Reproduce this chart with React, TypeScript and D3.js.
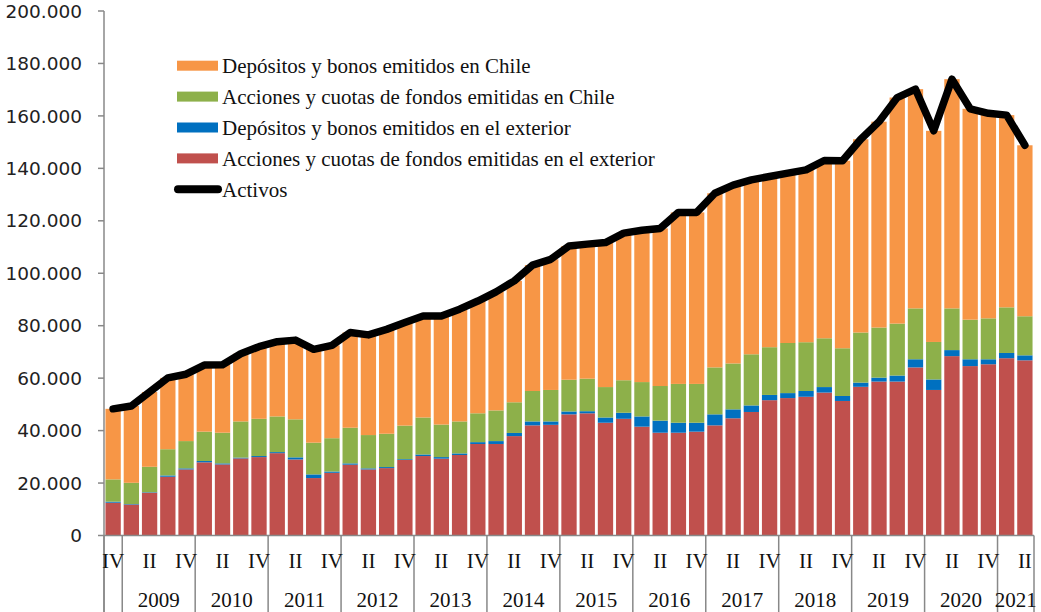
import React from "react";
import * as d3 from "d3";

// Quarters from 2008 IV to 2021 II
const categories = [
  "2008-IV",
  "2009-I", "2009-II", "2009-III", "2009-IV",
  "2010-I", "2010-II", "2010-III", "2010-IV",
  "2011-I", "2011-II", "2011-III", "2011-IV",
  "2012-I", "2012-II", "2012-III", "2012-IV",
  "2013-I", "2013-II", "2013-III", "2013-IV",
  "2014-I", "2014-II", "2014-III", "2014-IV",
  "2015-I", "2015-II", "2015-III", "2015-IV",
  "2016-I", "2016-II", "2016-III", "2016-IV",
  "2017-I", "2017-II", "2017-III", "2017-IV",
  "2018-I", "2018-II", "2018-III", "2018-IV",
  "2019-I", "2019-II", "2019-III", "2019-IV",
  "2020-I", "2020-II", "2020-III", "2020-IV",
  "2021-I", "2021-II",
];

const quarterTickLabels = [
  "IV",
  "", "II", "", "IV",
  "", "II", "", "IV",
  "", "II", "", "IV",
  "", "II", "", "IV",
  "", "II", "", "IV",
  "", "II", "", "IV",
  "", "II", "", "IV",
  "", "II", "", "IV",
  "", "II", "", "IV",
  "", "II", "", "IV",
  "", "II", "", "IV",
  "", "II", "", "IV",
  "", "II",
];

const yearLabels = ["2009", "2010", "2011", "2012", "2013", "2014", "2015", "2016", "2017", "2018", "2019", "2020", "2021"];

const yTicks = [0, 20, 40, 60, 80, 100, 120, 140, 160, 180, 200];

// Values in thousands
const accionesExterior = [
  12.5, 11.8, 16.3, 22.4, 25.2, 27.9, 27.1, 29.4, 29.9, 31.4, 29.0, 21.9, 23.9,
  27.0, 25.2, 25.7, 28.8, 30.3, 29.3, 30.7, 34.9, 34.9, 37.9, 42.0, 42.2,
  46.2, 46.6, 43.0, 44.5, 41.5, 39.2, 39.2, 39.6, 42.0, 44.7, 47.1, 51.6,
  52.4, 52.9, 54.5, 51.3, 56.7, 58.7, 58.7, 64.1, 55.5, 68.4, 64.6, 65.3, 67.6, 66.8,
];

const depositosExterior = [
  0.4, 0.2, 0.2, 0.5, 0.4, 0.5, 0.4, 0.3, 0.4, 0.4, 0.8, 1.4, 0.5,
  0.5, 0.4, 0.4, 0.3, 0.6, 0.6, 0.6, 0.7, 1.1, 1.2, 1.5, 1.3,
  1.1, 0.8, 2.0, 2.3, 3.9, 4.6, 3.8, 3.4, 4.2, 3.4, 2.5, 2.0,
  1.9, 2.2, 2.1, 1.9, 1.6, 1.5, 2.3, 3.1, 4.0, 2.3, 2.6, 1.9, 2.0, 1.9,
];

const accionesChile = [
  8.5, 8.1, 9.7, 10.0, 10.4, 11.2, 11.7, 13.8, 14.2, 13.6, 14.5, 12.1, 12.7,
  13.6, 12.7, 12.7, 12.8, 14.1, 12.4, 12.2, 11.0, 11.7, 11.7, 11.6, 12.0,
  12.1, 12.4, 11.6, 12.4, 13.1, 13.2, 14.8, 14.8, 17.9, 17.5, 19.5, 18.2,
  19.1, 18.6, 18.6, 18.2, 19.1, 19.1, 19.8, 19.4, 14.3, 15.9, 15.1, 15.6, 17.4, 14.9,
];

const depositosChile = [
  26.9, 29.3, 28.5, 27.2, 25.5, 25.4, 25.9, 25.8, 27.5, 28.5, 30.2, 35.6, 35.4,
  36.3, 38.2, 39.8, 39.3, 38.7, 41.4, 42.8, 42.8, 45.2, 46.3, 48.0, 49.8,
  51.0, 51.3, 55.1, 56.1, 57.9, 60.1, 65.4, 65.4, 66.4, 68.0, 66.5, 65.1,
  64.8, 65.7, 67.8, 71.5, 73.7, 78.5, 86.2, 83.6, 80.5, 87.4, 80.4, 78.2, 73.3, 65.2,
];

const activos = [
  48.3, 49.4, 54.7, 60.1, 61.5, 65.0, 65.1, 69.3, 72.0, 73.9, 74.5, 71.0, 72.5,
  77.4, 76.5, 78.6, 81.2, 83.7, 83.7, 86.3, 89.4, 92.9, 97.1, 103.1, 105.3,
  110.4, 111.1, 111.7, 115.3, 116.4, 117.1, 123.2, 123.2, 130.5, 133.6, 135.6, 136.9,
  138.2, 139.4, 143.0, 142.9, 151.1, 157.8, 167.0, 170.2, 154.3, 174.0, 162.7, 161.0, 160.3, 148.8,
];

const seriesKeys = ["accionesExterior", "depositosExterior", "accionesChile", "depositosChile"];
const seriesColors: Record<string, string> = {
  accionesExterior: "#C0504D",
  depositosExterior: "#0070C0",
  accionesChile: "#8DB04A",
  depositosChile: "#F79646",
};

const legendItems = [
  { label: "Depósitos y bonos emitidos en Chile", key: "depositosChile" },
  { label: "Acciones y cuotas de fondos emitidas en Chile", key: "accionesChile" },
  { label: "Depósitos y bonos emitidos en el exterior", key: "depositosExterior" },
  { label: "Acciones y cuotas de fondos emitidas en el exterior", key: "accionesExterior" },
  { label: "Activos", key: "activos" },
];

const W = 1041;
const H = 612;
const AXIS_COLOR = "#888888";
const SERIF = "'Liberation Serif', 'Times New Roman', serif";
const SANS = "'DejaVu Sans', sans-serif";

export default function App() {
  const x = d3
    .scaleBand<string>()
    .domain(categories)
    .range([104, 1034])
    .paddingInner(0.16)
    .paddingOuter(0.08);
  const y = d3.scaleLinear().domain([0, 200]).range([535.5, 11]);

  const table = categories.map((c, i) => ({
    cat: c,
    accionesExterior: accionesExterior[i],
    depositosExterior: depositosExterior[i],
    accionesChile: accionesChile[i],
    depositosChile: depositosChile[i],
  }));
  const stacked = d3.stack<any>().keys(seriesKeys)(table);

  const bw = x.bandwidth();
  const step = x.step();
  const halfGap = (step - bw) / 2;

  const line = d3
    .line<number>()
    .x((_, i) => (x(categories[i]) as number) + bw / 2)
    .y((d) => y(d));

  // separators at year starts
  const sepXs: number[] = [104];
  categories.forEach((c) => {
    if (c.endsWith("-I")) sepXs.push((x(c) as number) - halfGap);
  });
  sepXs.push(1034);

  const fmt = (v: number) => (v === 0 ? "0" : `${v}.000`);

  const yearCenters = yearLabels.map((yr) => {
    const idx = categories.map((c, i) => (c.startsWith(yr) ? i : -1)).filter((i) => i >= 0);
    const a = (x(categories[idx[0]]) as number) - halfGap;
    const b = (x(categories[idx[idx.length - 1]]) as number) + bw + halfGap;
    return { yr, cx: (a + b) / 2 };
  });

  const legendX = 177;
  const legendY0 = 65.7;
  const legendDy = 30.9;

  return (
    <svg
      width={W}
      height={H}
      style={{ position: "absolute", left: 0, top: 0, background: "#fff" }}
    >
      <rect x={0} y={0} width={W} height={H} fill="#fff" />
      {/* bars */}
      {stacked.map((s) => (
        <g key={s.key} fill={seriesColors[s.key]}>
          {s.map((d, i) => (
            <rect
              key={i}
              x={x(categories[i])}
              y={y(d[1])}
              width={bw}
              height={Math.max(0, y(d[0]) - y(d[1]))}
            />
          ))}
        </g>
      ))}

      {/* y axis */}
      <line x1={104} x2={104} y1={y(200)} y2={612} stroke={AXIS_COLOR} strokeWidth={1.5} />
      {yTicks.map((t) => (
        <g key={t}>
          <line x1={98} x2={104} y1={y(t)} y2={y(t)} stroke={AXIS_COLOR} strokeWidth={1.5} />
          <text
            x={82}
            y={y(t)}
            dy="0.36em"
            textAnchor="end"
            fontFamily={SANS}
            fontSize={18.5}
            fill="#222"
          >
            {fmt(t)}
          </text>
        </g>
      ))}

      {/* x axis */}
      <line x1={104} x2={1034} y1={y(0)} y2={y(0)} stroke={AXIS_COLOR} strokeWidth={1.5} />
      {sepXs.map((sx, i) => (
        <line key={i} x1={sx} x2={sx} y1={y(0)} y2={612} stroke={AXIS_COLOR} strokeWidth={1.5} />
      ))}
      {categories.map((c, i) =>
        quarterTickLabels[i] ? (
          <text
            key={c}
            x={(x(c) as number) + bw / 2}
            y={568}
            textAnchor="middle"
            fontFamily={SERIF}
            fontSize={21}
            fill="#111"
          >
            {quarterTickLabels[i]}
          </text>
        ) : null
      )}
      {yearCenters.map((yc) => (
        <text
          key={yc.yr}
          x={yc.cx}
          y={607}
          textAnchor="middle"
          fontFamily={SERIF}
          fontSize={21}
          fill="#111"
        >
          {yc.yr}
        </text>
      ))}

      {/* Activos line */}
      <path
        d={line(activos) || ""}
        fill="none"
        stroke="#000"
        strokeWidth={7.5}
        strokeLinejoin="round"
        strokeLinecap="round"
      />

      {/* legend */}
      {legendItems.map((it, i) => {
        const cy = legendY0 + i * legendDy;
        return (
          <g key={it.key}>
            {it.key === "activos" ? (
              <line
                x1={legendX + 1}
                x2={legendX + 41}
                y1={cy}
                y2={cy}
                stroke="#000"
                strokeWidth={8}
                strokeLinecap="round"
              />
            ) : (
              <rect x={legendX} y={cy - 5} width={41} height={10} fill={seriesColors[it.key]} />
            )}
            <text
              x={222}
              y={cy + 7.5}
              fontFamily={SERIF}
              fontSize={21}
              fill="#111"
            >
              {it.label}
            </text>
          </g>
        );
      })}
    </svg>
  );
}
